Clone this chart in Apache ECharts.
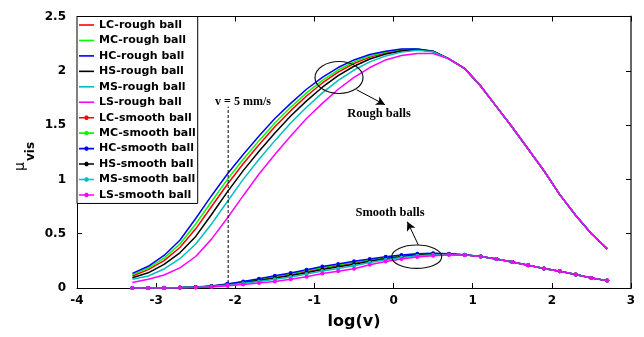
<!DOCTYPE html>
<html>
<head>
<meta charset="utf-8">
<script src="https://cdn.jsdelivr.net/npm/echarts@6/dist/echarts.min.js"></script>
<style>
  html, body { margin: 0; padding: 0; background: #fff; }
  #chart { width: 644px; height: 337px; }
</style>
</head>
<body>
<div id="chart"></div>
<script>
// Sliding velocity on a log scale (shared by every curve)
const logV = [-3.3, -3.1, -2.9, -2.7, -2.5, -2.3, -2.1, -1.9, -1.7, -1.5, -1.3,
              -1.1, -0.9, -0.7, -0.5, -0.3, -0.1, 0.1, 0.3, 0.5, 0.7,
              0.9, 1.1, 1.3, 1.5, 1.7, 1.9, 2.1, 2.3, 2.5, 2.7];

// Viscous friction coefficient, rough balls
const roughLC = [0.11, 0.169, 0.252, 0.373, 0.545, 0.75, 0.955, 1.144, 1.319, 1.484, 1.633,
                 1.768, 1.888, 1.987, 2.067, 2.126, 2.166, 2.19, 2.198, 2.18, 2.11,
                 2.02, 1.86, 1.67, 1.48, 1.28, 1.08, 0.86, 0.67, 0.50, 0.36];
const roughMC = [0.123, 0.184, 0.275, 0.405, 0.59, 0.797, 1.00, 1.185, 1.357, 1.52, 1.665,
                 1.797, 1.912, 2.007, 2.082, 2.137, 2.172, 2.195, 2.20, 2.18, 2.11,
                 2.02, 1.86, 1.67, 1.48, 1.28, 1.08, 0.86, 0.67, 0.50, 0.36];
const roughHC = [0.135, 0.20, 0.30, 0.44, 0.64, 0.85, 1.05, 1.23, 1.40, 1.56, 1.70,
                 1.83, 1.94, 2.03, 2.10, 2.15, 2.18, 2.20, 2.20, 2.18, 2.11,
                 2.02, 1.86, 1.67, 1.48, 1.28, 1.08, 0.86, 0.67, 0.50, 0.36];
const roughHS = [0.095, 0.14, 0.217, 0.324, 0.475, 0.677, 0.885, 1.081, 1.26, 1.428, 1.584,
                 1.723, 1.849, 1.956, 2.042, 2.109, 2.155, 2.183, 2.195, 2.178, 2.11,
                 2.02, 1.86, 1.67, 1.48, 1.28, 1.08, 0.86, 0.67, 0.50, 0.36];
const roughMS = [0.08, 0.11, 0.175, 0.27, 0.405, 0.59, 0.797, 1.00, 1.185, 1.357, 1.52,
                 1.665, 1.797, 1.912, 2.007, 2.082, 2.137, 2.172, 2.19, 2.175, 2.11,
                 2.02, 1.86, 1.67, 1.48, 1.28, 1.08, 0.86, 0.67, 0.50, 0.36];
const roughLS = [0.05, 0.08, 0.12, 0.185, 0.29, 0.45, 0.645, 0.85, 1.05, 1.23, 1.40,
                 1.56, 1.70, 1.83, 1.94, 2.03, 2.10, 2.14, 2.16, 2.16, 2.11,
                 2.02, 1.86, 1.67, 1.48, 1.28, 1.08, 0.86, 0.67, 0.50, 0.36];

// Viscous friction coefficient, smooth balls
const smoothLC = [0, 0, 0.002, 0.004, 0.008, 0.016, 0.034, 0.053, 0.075, 0.1, 0.125,
                  0.152, 0.182, 0.206, 0.23, 0.255, 0.277, 0.295, 0.309, 0.315, 0.313,
                  0.305, 0.29, 0.267, 0.24, 0.21, 0.18, 0.154, 0.125, 0.093, 0.068];
const smoothMC = [0, 0, 0.002, 0.004, 0.008, 0.017, 0.036, 0.056, 0.08, 0.106, 0.132,
                  0.16, 0.189, 0.214, 0.237, 0.261, 0.282, 0.299, 0.312, 0.317, 0.314,
                  0.306, 0.29, 0.267, 0.24, 0.21, 0.18, 0.154, 0.125, 0.093, 0.068];
const smoothHC = [0, 0, 0.002, 0.004, 0.009, 0.018, 0.038, 0.06, 0.085, 0.112, 0.139,
                  0.168, 0.197, 0.222, 0.246, 0.268, 0.288, 0.304, 0.316, 0.32, 0.316,
                  0.306, 0.29, 0.267, 0.24, 0.21, 0.18, 0.154, 0.125, 0.093, 0.068];
const smoothHS = [0, 0, 0.001, 0.003, 0.007, 0.015, 0.031, 0.049, 0.069, 0.091, 0.115,
                  0.141, 0.171, 0.195, 0.218, 0.246, 0.27, 0.288, 0.304, 0.311, 0.311,
                  0.305, 0.29, 0.267, 0.24, 0.21, 0.18, 0.154, 0.125, 0.093, 0.068];
const smoothMS = [0, 0, 0.001, 0.003, 0.006, 0.013, 0.027, 0.043, 0.06, 0.08, 0.102,
                  0.128, 0.157, 0.18, 0.204, 0.235, 0.261, 0.28, 0.297, 0.306, 0.309,
                  0.305, 0.29, 0.267, 0.24, 0.21, 0.18, 0.154, 0.125, 0.093, 0.068];
const smoothLS = [0, 0, 0, 0.002, 0.005, 0.01, 0.02, 0.032, 0.045, 0.06, 0.08,
                  0.103, 0.133, 0.155, 0.178, 0.215, 0.244, 0.266, 0.286, 0.298, 0.304,
                  0.304, 0.29, 0.267, 0.24, 0.21, 0.18, 0.154, 0.125, 0.093, 0.068];

const roughNames  = ['LC-rough ball', 'MC-rough ball', 'HC-rough ball', 'HS-rough ball', 'MS-rough ball', 'LS-rough ball'];
const smoothNames = ['LC-smooth ball', 'MC-smooth ball', 'HC-smooth ball', 'HS-smooth ball', 'MS-smooth ball', 'LS-smooth ball'];

// Reference velocity line (v = 5 mm/s) and its extent
const refLineX = [-2.09, -2.09];
const refLineY = [0, 1.67];

// Annotation arrows: [x0, y0, x1, y1] in axis units
const roughArrow  = [-0.466, 1.825, -0.108, 1.687];
const smoothArrow = [0.313, 0.396, 0.174, 0.611];

const xTicks = { min: -4, max: 3, step: 1 };
const yTicks = { min: 0, max: 2.5, step: 0.5 };

const SANS = "'DejaVu Sans', sans-serif";
const palette = ['#ff0000', '#00ff00', '#0000ff', '#000000', '#00bfbf', '#ff00ff'];

// legend glyphs: plain stroke for rough balls, stroke with a dot for smooth balls
const ICON_LINE = 'path://M0,3 L15,3 L15,4.6 L0,4.6 Z';
const ICON_LINE_DOT = 'path://M0,3 L15,3 L15,4.6 L0,4.6 Z M6.6,1.6 L8.4,1.6 L9.6,2.9 L9.6,4.7 L8.4,6 L6.6,6 L5.4,4.7 L5.4,2.9 Z';

const roughSets  = [roughLC, roughMC, roughHC, roughHS, roughMS, roughLS];
const smoothSets = [smoothLC, smoothMC, smoothHC, smoothHS, smoothMS, smoothLS];

const toPairs = ys => logV.map((x, i) => [x, ys[i]]);

const series = [];
roughSets.forEach((ys, k) => {
  series.push({
    name: roughNames[k], type: 'line', data: toPairs(ys),
    symbol: 'none', smooth: false,
    lineStyle: { color: palette[k], width: 1.5 },
    itemStyle: { color: palette[k] },
    emphasis: { disabled: true }, animation: false
  });
});
smoothSets.forEach((ys, k) => {
  series.push({
    name: smoothNames[k], type: 'line', data: toPairs(ys),
    symbol: 'circle', symbolSize: 4, showSymbol: true, showAllSymbol: true,
    lineStyle: { color: palette[k], width: 1.5 },
    itemStyle: { color: palette[k] },
    emphasis: { disabled: true }, animation: false
  });
});

// dashed reference line plus the two annotation arrows
series.push({
  name: 'ref', type: 'line', silent: true, symbol: 'none',
  data: refLineX.map((x, i) => [x, refLineY[i]]),
  lineStyle: { color: '#000', width: 1, type: [3, 2] },
  animation: false, z: 3,
  markLine: {
    silent: true, symbol: ['none', 'arrow'], symbolSize: [7, 9],
    label: { show: false },
    lineStyle: { color: '#000', width: 1, type: 'solid' },
    animation: false,
    data: [
      [{ coord: [roughArrow[0], roughArrow[1]] }, { coord: [roughArrow[2], roughArrow[3]] }],
      [{ coord: [smoothArrow[0], smoothArrow[1]] }, { coord: [smoothArrow[2], smoothArrow[3]] }]
    ]
  }
});

const tickLabel = { color: '#000', fontFamily: SANS, fontWeight: 'bold', fontSize: 12 };
const frameLine = { show: true, onZero: false, lineStyle: { color: '#000', width: 1 } };
const innerTick = { show: true, inside: true, length: 5, lineStyle: { color: '#000', width: 1 } };

const legendItems = roughNames.map(n => ({ name: n, icon: ICON_LINE }))
  .concat(smoothNames.map(n => ({ name: n, icon: ICON_LINE_DOT })));

const chart = echarts.init(document.getElementById('chart'), null, { renderer: 'canvas' });
chart.setOption({
  backgroundColor: '#fff',
  animation: false,
  grid: { left: 77, right: 13, top: 16.5, bottom: 49, containLabel: false },
  xAxis: [
    {
      type: 'value', position: 'bottom', min: xTicks.min, max: xTicks.max, interval: xTicks.step,
      axisLine: frameLine, axisTick: innerTick, splitLine: { show: false },
      axisLabel: Object.assign({ margin: 7 }, tickLabel),
      name: 'log(v)', nameLocation: 'middle', nameGap: 26,
      nameTextStyle: { color: '#000', fontFamily: SANS, fontWeight: 'bold', fontSize: 16 }
    },
    {
      type: 'value', position: 'top', min: xTicks.min, max: xTicks.max, interval: xTicks.step,
      axisLine: frameLine, axisTick: innerTick, splitLine: { show: false },
      axisLabel: { show: false }
    }
  ],
  yAxis: [
    {
      type: 'value', position: 'left', min: yTicks.min, max: yTicks.max, interval: yTicks.step,
      axisLine: frameLine, axisTick: innerTick, splitLine: { show: false },
      axisLabel: Object.assign({ margin: 11 }, tickLabel)
    },
    {
      type: 'value', position: 'right', min: yTicks.min, max: yTicks.max, interval: yTicks.step,
      axisLine: { show: true, onZero: false, lineStyle: { color: '#666', width: 2 } },
      axisTick: innerTick, splitLine: { show: false },
      axisLabel: { show: false }
    }
  ],
  legend: {
    data: legendItems,
    orient: 'vertical', left: 77, top: 16.5,
    itemWidth: 15, itemHeight: 6, itemGap: 0.45,
    padding: [1, 2, 1, 2],
    backgroundColor: '#fff', borderColor: '#000', borderWidth: 1, borderRadius: 0,
    selectedMode: false,
    textStyle: { color: '#000', fontFamily: SANS, fontWeight: 'bold', fontSize: 11, lineHeight: 15 }
  },
  series: series,
  graphic: [
    {
      type: 'group', x: 26, y: 160, rotation: Math.PI / 2, silent: true,
      children: [
        { type: 'text', x: -2, y: 1, style: { text: 'μ', fill: '#000', font: "14px 'DejaVu Sans'", align: 'right', verticalAlign: 'bottom' } },
        { type: 'text', x: -1, y: 11, style: { text: 'vis', fill: '#000', font: "bold 12px 'DejaVu Sans'", align: 'left', verticalAlign: 'bottom' } }
      ]
    },
    { type: 'text', x: 243, y: 101.5, silent: true,
      style: { text: 'v = 5 mm/s', fill: '#000', font: "bold 12px 'Liberation Serif'", align: 'center', verticalAlign: 'middle' } },
    { type: 'text', x: 379, y: 114, silent: true,
      style: { text: 'Rough balls', fill: '#000', font: "bold 12.5px 'Liberation Serif'", align: 'center', verticalAlign: 'middle' } },
    { type: 'text', x: 390, y: 213, silent: true,
      style: { text: 'Smooth balls', fill: '#000', font: "bold 12.5px 'Liberation Serif'", align: 'center', verticalAlign: 'middle' } },
    { type: 'ellipse', silent: true, z: 100, shape: { cx: 339, cy: 77.5, rx: 24, ry: 16 },
      style: { fill: 'none', stroke: '#111', lineWidth: 1.2 } },
    { type: 'ellipse', silent: true, z: 100, shape: { cx: 416.7, cy: 256.7, rx: 25, ry: 11.7 },
      style: { fill: 'none', stroke: '#111', lineWidth: 1.2 } }
  ]
});
</script>
</body>
</html>
